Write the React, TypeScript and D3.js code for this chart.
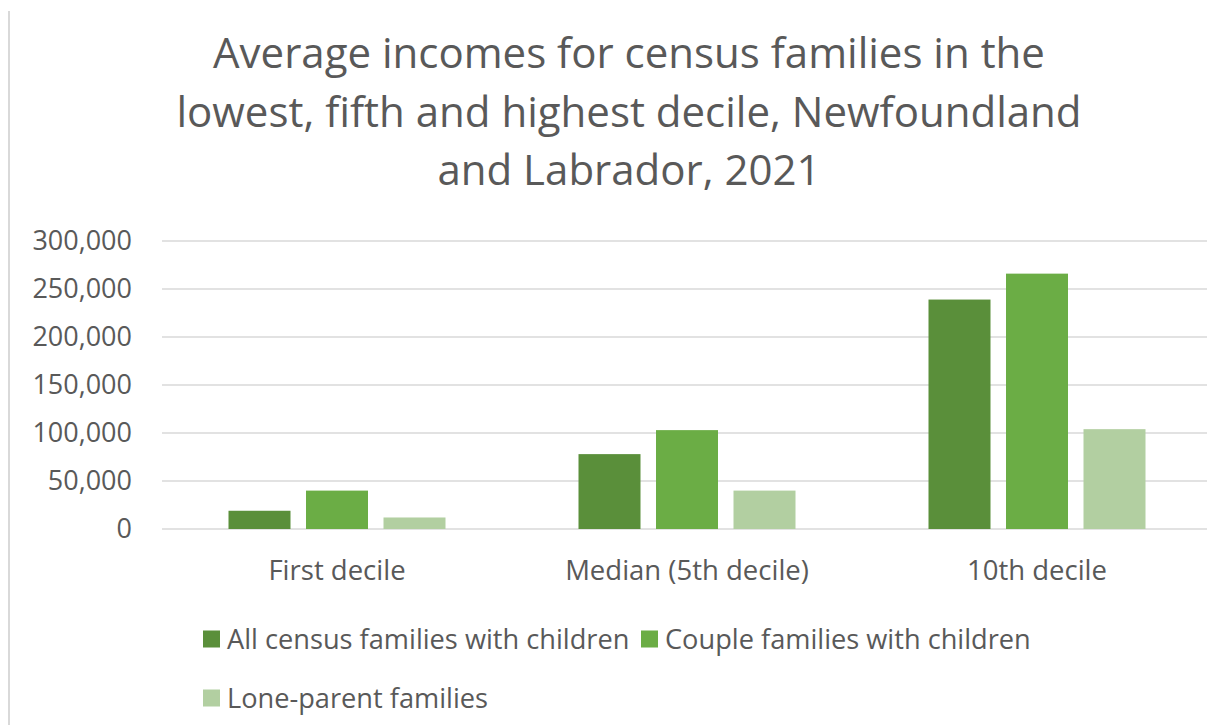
import React, { useEffect, useRef } from "react"
import * as d3 from "d3"

const WIDTH = 1207
const HEIGHT = 725

const categories = ["First decile", "Median (5th decile)", "10th decile"]
const seriesNames = [
  "All census families with children",
  "Couple families with children",
  "Lone-parent families",
]
const allCensusFamilies = [19000, 78000, 239000]
const coupleFamilies = [40000, 103000, 266000]
const loneParentFamilies = [12000, 40000, 104000]
const yTicks = [0, 50000, 100000, 150000, 200000, 250000, 300000]
const titleLines = [
  "Average incomes for census families in the",
  "lowest, fifth and highest decile, Newfoundland",
  "and Labrador, 2021",
]

const seriesValues = [allCensusFamilies, coupleFamilies, loneParentFamilies]
const colors = ["#5a8f3a", "#6bad45", "#b2cfa1"]
const FONT = "'Open Sans', Lato, sans-serif"
const TEXT_COLOR = "#595959"

export default function App() {
  const svgRef = useRef<SVGSVGElement | null>(null)

  useEffect(() => {
    if (!svgRef.current) return
    const svg = d3.select(svgRef.current)
    svg.selectAll("*").remove()

    const plot = { left: 162, right: 1212, top: 241, bottom: 529 }

    const x0 = d3
      .scaleBand<string>()
      .domain(categories)
      .range([plot.left, plot.right])
      .paddingInner(0.38)
      .paddingOuter(0.19)
    const x1 = d3
      .scaleBand<string>()
      .domain(seriesNames)
      .range([0, x0.bandwidth()])
      .paddingInner(0.2)
    const y = d3.scaleLinear().domain([0, 300000]).range([plot.bottom, plot.top])

    svg.append("rect").attr("width", WIDTH).attr("height", HEIGHT).attr("fill", "#ffffff")

    // left border of the chart frame
    svg
      .append("line")
      .attr("x1", 9)
      .attr("x2", 9)
      .attr("y1", 11)
      .attr("y2", HEIGHT)
      .attr("stroke", "#d9d9d9")
      .attr("stroke-width", 2)

    const title = svg
      .append("text")
      .attr("text-anchor", "middle")
      .style("font-family", FONT)
      .style("font-size", "42px")
      .style("fill", TEXT_COLOR)
    titleLines.forEach((line, i) => {
      title
        .append("tspan")
        .attr("x", 629)
        .attr("y", 68 + i * 58.5)
        .text(line)
    })

    // gridlines
    svg
      .append("g")
      .selectAll("line")
      .data(yTicks)
      .join("line")
      .attr("x1", plot.left)
      .attr("x2", WIDTH)
      .attr("y1", (d) => y(d))
      .attr("y2", (d) => y(d))
      .attr("stroke", "#d9d9d9")
      .attr("stroke-width", 1.5)

    const yAxis = d3
      .axisLeft(y)
      .tickValues(yTicks)
      .tickSize(0)
      .tickPadding(0)
      .tickFormat((d) => d3.format(",")(d as number))
    const yG = svg.append("g").attr("transform", `translate(132,0)`).call(yAxis)
    yG.select(".domain").remove()
    yG.selectAll("text")
      .style("font-family", FONT)
      .style("font-size", "27px")
      .style("fill", TEXT_COLOR)

    // bars
    const groups = svg
      .append("g")
      .selectAll("g")
      .data(categories)
      .join("g")
      .attr("transform", (d) => `translate(${x0(d)},0)`)
    groups
      .selectAll("rect")
      .data((_, ci) => seriesNames.map((name, si) => ({ name, value: seriesValues[si][ci], si })))
      .join("rect")
      .attr("x", (d) => x1(d.name) as number)
      .attr("width", x1.bandwidth())
      .attr("y", (d) => y(d.value))
      .attr("height", (d) => y(0) - y(d.value))
      .attr("fill", (d) => colors[d.si])

    const xAxis = d3.axisBottom(x0).tickSize(0).tickPadding(0)
    const xG = svg.append("g").attr("transform", `translate(0,580)`).call(xAxis)
    xG.select(".domain").remove()
    xG.selectAll("text")
      .attr("dy", 0)
      .style("font-family", FONT)
      .style("font-size", "27.5px")
      .style("fill", TEXT_COLOR)

    // legend
    const legendPos = [
      { x: 203, y: 639 },
      { x: 641, y: 639 },
      { x: 203, y: 698 },
    ]
    const legend = svg
      .append("g")
      .selectAll("g")
      .data(seriesNames)
      .join("g")
      .attr("transform", (_, i) => `translate(${legendPos[i].x},${legendPos[i].y})`)
    legend
      .append("rect")
      .attr("x", 0)
      .attr("y", -8.5)
      .attr("width", 17)
      .attr("height", 17)
      .attr("fill", (_, i) => colors[i])
    legend
      .append("text")
      .attr("x", 24)
      .attr("dy", "0.35em")
      .style("font-family", FONT)
      .style("font-size", "27.2px")
      .style("fill", TEXT_COLOR)
      .text((d) => d)
  }, [])

  return (
    <svg
      ref={svgRef}
      width={WIDTH}
      height={HEIGHT}
      style={{ position: "absolute", left: 0, top: 0, display: "block" }}
    ></svg>
  )
}
